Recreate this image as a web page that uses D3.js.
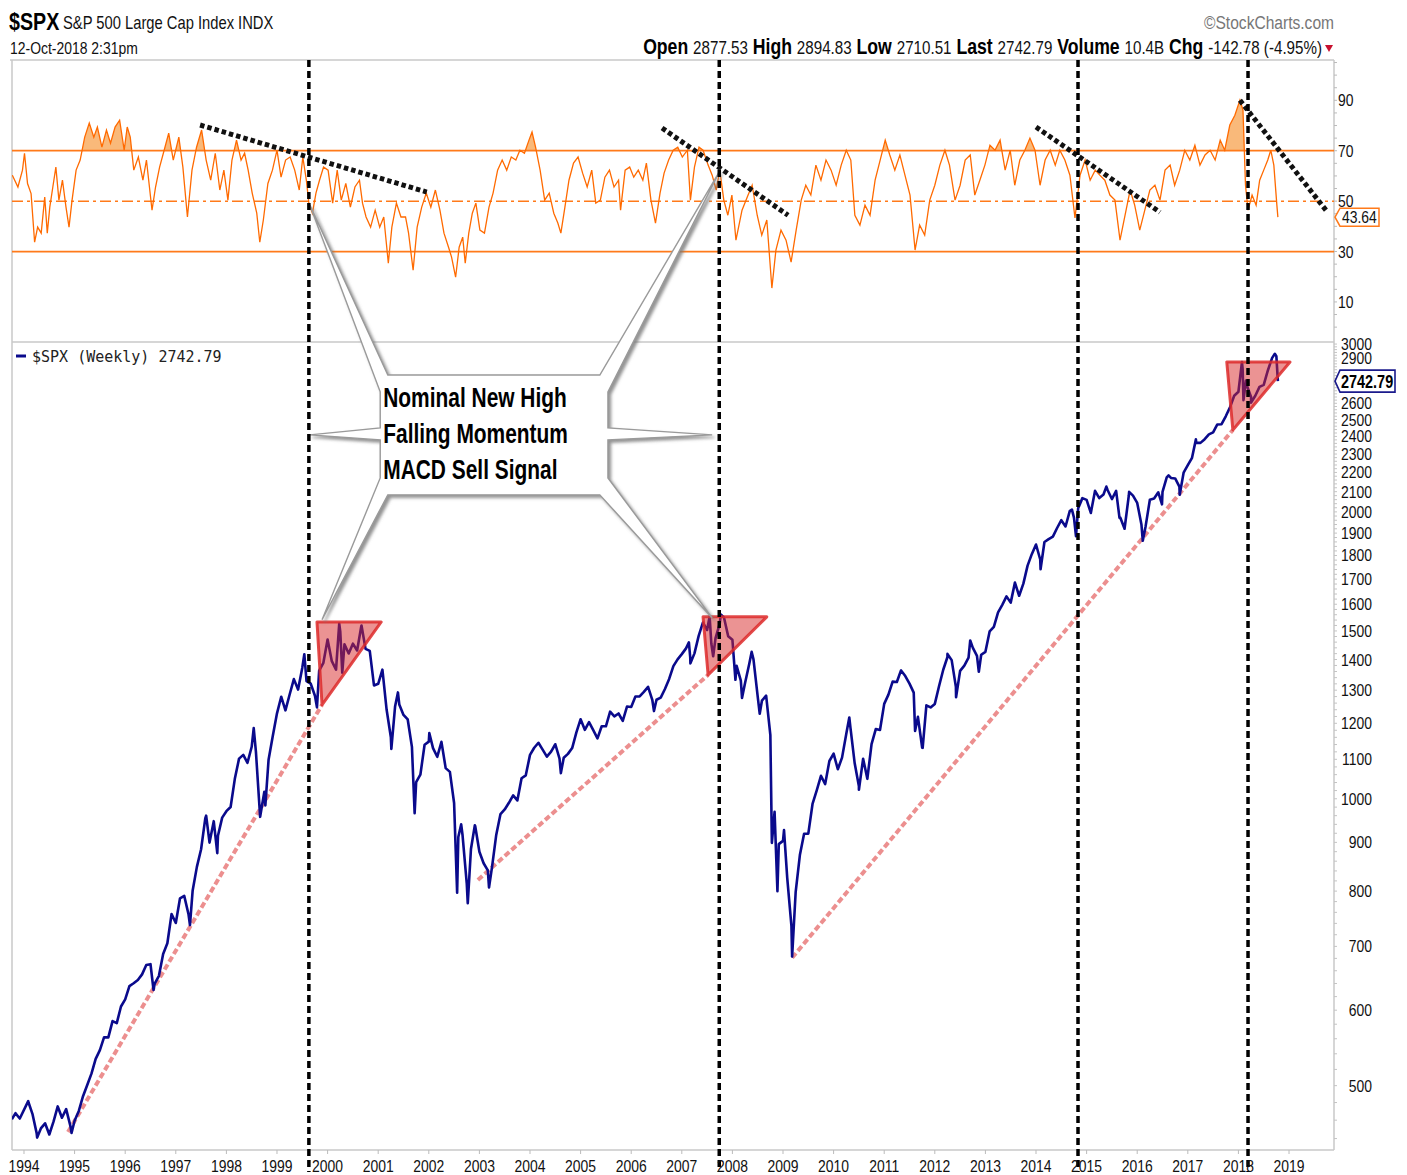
<!DOCTYPE html>
<html>
<head>
<meta charset="utf-8">
<title>$SPX Weekly with RSI</title>
<script src="https://cdnjs.cloudflare.com/ajax/libs/d3/7.8.5/d3.min.js"></script>
<style>
body { margin: 0; background: #fff; }
svg { display: block; font-family: "Liberation Sans", Arial, sans-serif; }
.mono { font-family: "DejaVu Sans Mono", monospace; }
</style>
</head>
<body>
<svg id="chart" width="1407" height="1175"></svg>
<script>
// monthly closes, one row per year: [year, jan .. dec]
var closeRows = [
  [1994, 481.6, 467.1, 445.8, 450.9, 456.5, 444.3, 458.3, 475.5, 462.7, 472.4, 453.7, 459.3],
  [1995, 470.4, 487.4, 500.7, 514.7, 533.4, 544.8, 562.1, 561.9, 584.4, 581.5, 605.4, 615.9],
  [1996, 636.0, 640.4, 645.5, 654.2, 669.1, 670.6, 639.9, 652.0, 687.3, 705.3, 757.0, 740.7],
  [1997, 786.2, 790.8, 757.1, 801.3, 848.3, 885.1, 954.3, 899.5, 947.3, 914.6, 955.4, 970.4],
  [1998, 980.3, 1049.3, 1101.8, 1111.8, 1090.8, 1133.8, 1120.7, 957.3, 1017.0, 1098.7, 1163.6, 1229.2],
  [1999, 1279.6, 1238.3, 1286.4, 1335.2, 1301.8, 1372.7, 1328.7, 1320.4, 1282.7, 1362.9, 1389.0, 1469.3],
  [2000, 1394.5, 1366.4, 1498.6, 1452.4, 1420.6, 1454.6, 1430.8, 1517.7, 1436.5, 1429.4, 1314.9, 1320.3],
  [2001, 1366.0, 1239.9, 1160.3, 1249.5, 1255.8, 1224.4, 1211.2, 1133.6, 1040.9, 1059.8, 1139.5, 1148.1],
  [2002, 1130.2, 1106.7, 1147.4, 1076.9, 1067.1, 989.8, 911.6, 916.1, 815.3, 885.8, 936.3, 879.8],
  [2003, 855.7, 841.2, 848.2, 916.9, 963.6, 974.5, 990.3, 1008.0, 996.0, 1050.7, 1058.2, 1111.9],
  [2004, 1131.1, 1144.9, 1126.2, 1107.3, 1120.7, 1140.8, 1101.7, 1104.2, 1114.6, 1130.2, 1173.8, 1211.9],
  [2005, 1181.3, 1203.6, 1180.6, 1156.9, 1191.5, 1191.3, 1234.2, 1220.3, 1228.8, 1207.0, 1249.5, 1248.3],
  [2006, 1280.1, 1280.7, 1294.9, 1310.6, 1270.1, 1270.2, 1276.7, 1303.8, 1335.9, 1377.9, 1400.6, 1418.3],
  [2007, 1438.2, 1406.8, 1420.9, 1482.4, 1530.6, 1503.4, 1455.3, 1474.0, 1526.8, 1549.4, 1481.1, 1468.4],
  [2008, 1378.6, 1330.6, 1322.7, 1385.6, 1400.4, 1280.0, 1267.4, 1282.8, 1166.4, 968.8, 896.2, 903.3],
  [2009, 825.9, 735.1, 797.9, 872.8, 919.1, 919.3, 987.5, 1020.6, 1057.1, 1036.2, 1095.6, 1115.1],
  [2010, 1073.9, 1104.5, 1169.4, 1186.7, 1089.4, 1030.7, 1101.6, 1049.3, 1141.2, 1183.3, 1180.6, 1257.6],
  [2011, 1286.1, 1327.2, 1325.8, 1363.6, 1345.2, 1320.6, 1292.3, 1218.9, 1131.4, 1253.3, 1247.0, 1257.6],
  [2012, 1312.4, 1365.7, 1408.5, 1397.9, 1310.3, 1362.2, 1379.3, 1406.6, 1440.7, 1412.2, 1416.2, 1426.2],
  [2013, 1498.1, 1514.7, 1569.2, 1597.6, 1630.7, 1606.3, 1685.7, 1633.0, 1681.6, 1756.5, 1805.8, 1848.4],
  [2014, 1782.6, 1859.5, 1872.3, 1883.9, 1923.6, 1960.2, 1930.7, 2003.4, 1972.3, 2018.1, 2067.6, 2058.9],
  [2015, 1995.0, 2104.5, 2067.9, 2085.5, 2107.4, 2063.1, 2103.8, 1972.2, 1920.0, 2079.4, 2080.4, 2043.9],
  [2016, 1940.2, 1932.2, 2059.7, 2065.3, 2096.9, 2098.9, 2173.6, 2170.9, 2168.3, 2126.2, 2198.8, 2238.8],
  [2017, 2278.9, 2363.6, 2362.7, 2384.2, 2411.8, 2423.4, 2470.3, 2471.7, 2519.4, 2575.3, 2647.6, 2673.6],
  [2018, 2823.8, 2713.8, 2640.9, 2648.1, 2705.3, 2718.4, 2816.3, 2901.5, 2914.0]
];

// weekly swing highs / lows between the month ends, [decimal year, close]
var swingPoints = [
  [1993.76, 461], [1993.90, 463], [1994.09, 480], [1994.26, 441], [1994.94, 446],
  [1996.56, 630], [1997.28, 737], [1997.60, 960], [1997.82, 877],
  [1998.54, 1186], [1998.77, 984], [1999.54, 1418], [1999.79, 1247],
  [2000.23, 1527], [2000.29, 1356], [2000.67, 1520],
  [2001.26, 1128], [2001.39, 1293], [2001.72, 966], [2002.01, 1172],
  [2002.56, 797], [2002.64, 940], [2002.77, 777], [2002.91, 938], [2003.19, 807],
  [2004.61, 1064], [2006.45, 1236],
  [2007.14, 1459], [2007.17, 1387], [2007.55, 1553], [2007.62, 1411], [2007.77, 1561],
  [2008.06, 1333], [2008.19, 1276], [2008.38, 1426], [2008.54, 1228], [2008.78, 899],
  [2008.89, 800], [2009.02, 927], [2009.18, 683],
  [2010.31, 1217], [2010.50, 1022], [2011.33, 1363], [2011.61, 1178], [2011.76, 1131],
  [2012.25, 1419], [2012.42, 1278], [2012.70, 1466], [2012.87, 1359],
  [2014.09, 1741], [2014.71, 2011], [2014.79, 1886],
  [2015.39, 2126], [2015.65, 1971], [2015.84, 2099],
  [2016.11, 1865], [2016.49, 2037], [2016.62, 2184], [2016.84, 2085], [2017.16, 2383],
  [2018.07, 2872], [2018.10, 2620], [2018.15, 2747], [2018.25, 2604], [2018.72, 2930],
  [2018.78, 2742.79]
];

// RSI(14) weekly, [decimal year, value]
var rsiPoints = [
  [1993.77, 60.3], [1993.88, 55.6], [1993.97, 62.3], [1994.01, 69], [1994.07, 57], [1994.14, 53],
  [1994.21, 33.7], [1994.27, 39.7], [1994.34, 37.3], [1994.41, 51.6], [1994.46, 37.3], [1994.51, 47.6],
  [1994.57, 55.6], [1994.63, 63.5], [1994.69, 50.4], [1994.76, 58.3], [1994.83, 47.6], [1994.89, 39.7],
  [1994.95, 50.4], [1995.03, 62.3], [1995.11, 66.3], [1995.20, 75.4], [1995.29, 81], [1995.38, 75.4],
  [1995.45, 79.4], [1995.54, 71.4], [1995.63, 78.2], [1995.71, 73], [1995.80, 79.4], [1995.89, 82.1],
  [1995.98, 70.2], [1996.04, 79.4], [1996.10, 75.4], [1996.17, 62.3], [1996.26, 67.5], [1996.35, 58.3],
  [1996.42, 66.3], [1996.53, 46.4], [1996.60, 55.6], [1996.68, 63.5], [1996.77, 70.2], [1996.86, 77],
  [1996.95, 66.3], [1997.06, 75.4], [1997.14, 63.5], [1997.23, 43.7], [1997.32, 62.3], [1997.41, 71.4],
  [1997.51, 78.2], [1997.60, 66.3], [1997.69, 58.3], [1997.78, 69], [1997.87, 54.4], [1997.95, 62.3],
  [1998.03, 50.4], [1998.11, 66.3], [1998.20, 74.2], [1998.29, 66.3], [1998.36, 69], [1998.43, 62.3],
  [1998.51, 53.2], [1998.60, 45.2], [1998.66, 33.7], [1998.73, 42.5], [1998.82, 57], [1998.91, 62.3],
  [1999.00, 70.2], [1999.08, 59.5], [1999.17, 66.3], [1999.26, 67.5], [1999.35, 62.3], [1999.44, 54.4],
  [1999.51, 67.5], [1999.58, 58.3], [1999.63, 49.2], [1999.70, 45.2], [1999.77, 53.2], [1999.84, 58.3],
  [1999.92, 63.5], [2000.01, 62.3], [2000.10, 49.2], [2000.19, 62.3], [2000.27, 50.4], [2000.36, 57],
  [2000.45, 47.6], [2000.54, 55.6], [2000.63, 58.3], [2000.69, 49.2], [2000.76, 43.7], [2000.85, 39.7],
  [2000.94, 46.4], [2001.03, 39.7], [2001.11, 43.7], [2001.20, 25.4], [2001.27, 39.7], [2001.36, 49.2],
  [2001.45, 43.7], [2001.54, 43.7], [2001.60, 37.3], [2001.69, 22.6], [2001.77, 39.7], [2001.86, 47.6],
  [2001.95, 53.2], [2002.04, 47.6], [2002.13, 54.4], [2002.22, 46.4], [2002.30, 37.3], [2002.39, 31.7],
  [2002.45, 27.8], [2002.53, 19.8], [2002.60, 31.7], [2002.67, 35.7], [2002.72, 25.4], [2002.79, 37.3],
  [2002.86, 45.2], [2002.93, 49.2], [2003.01, 38.5], [2003.10, 37.3], [2003.19, 47.6], [2003.27, 53.2],
  [2003.36, 62.3], [2003.45, 66.3], [2003.54, 62.3], [2003.63, 67.5], [2003.72, 66.3], [2003.80, 70.2],
  [2003.89, 69], [2003.98, 74.2], [2004.04, 77.4], [2004.11, 71.4], [2004.20, 62.3], [2004.29, 50.4],
  [2004.38, 53.2], [2004.47, 45.2], [2004.55, 41.3], [2004.61, 37.3], [2004.69, 47.6], [2004.77, 58.3],
  [2004.86, 65.1], [2004.95, 67.5], [2005.04, 61.1], [2005.13, 55.6], [2005.22, 62.3], [2005.30, 49.2],
  [2005.39, 50.4], [2005.48, 59.5], [2005.57, 62.3], [2005.66, 55.6], [2005.75, 58.3], [2005.79, 46.4],
  [2005.88, 62.3], [2005.97, 63.5], [2006.05, 59.5], [2006.14, 62.3], [2006.23, 58.3], [2006.30, 65.1],
  [2006.39, 50.4], [2006.48, 41.3], [2006.57, 53.2], [2006.65, 61.1], [2006.74, 66.3], [2006.83, 70.2],
  [2006.92, 71.4], [2007.01, 67.5], [2007.11, 70.2], [2007.17, 50.4], [2007.25, 63.5], [2007.34, 71.4],
  [2007.42, 70.2], [2007.52, 64.3], [2007.60, 60.3], [2007.68, 54.4], [2007.75, 62.3], [2007.83, 50.4],
  [2007.91, 44.4], [2007.99, 52.4], [2008.07, 34.5], [2008.19, 46.4], [2008.31, 52.4], [2008.39, 56.3],
  [2008.49, 44.4], [2008.58, 36.5], [2008.68, 42.5], [2008.78, 15.5], [2008.86, 30.6], [2008.96, 38.5],
  [2009.06, 34.5], [2009.16, 25.8], [2009.26, 38.5], [2009.36, 50.4], [2009.45, 56.3], [2009.55, 52.4],
  [2009.65, 64.3], [2009.75, 58.3], [2009.85, 66.3], [2009.95, 62.3], [2010.05, 56.3], [2010.15, 64.3],
  [2010.25, 70.2], [2010.34, 66.3], [2010.42, 44.4], [2010.52, 40.5], [2010.62, 48.4], [2010.72, 44.4],
  [2010.82, 58.3], [2010.92, 66.3], [2011.02, 74.2], [2011.11, 68.3], [2011.21, 62.3], [2011.31, 68.3],
  [2011.41, 60.3], [2011.51, 52.4], [2011.61, 30.6], [2011.70, 40.5], [2011.80, 36.5], [2011.90, 50.4],
  [2012.00, 56.3], [2012.10, 64.3], [2012.20, 70.2], [2012.29, 64.3], [2012.40, 50.4], [2012.50, 56.3],
  [2012.60, 66.3], [2012.70, 68.3], [2012.79, 52.4], [2012.89, 58.3], [2012.99, 64.3], [2013.09, 72.2],
  [2013.19, 70.2], [2013.29, 74.2], [2013.39, 62.3], [2013.49, 70.2], [2013.58, 56.3], [2013.68, 66.3],
  [2013.78, 70.2], [2013.88, 75], [2013.98, 70.2], [2014.08, 56.3], [2014.18, 66.3], [2014.28, 70.2],
  [2014.38, 64.3], [2014.47, 70.2], [2014.57, 66.3], [2014.67, 60.3], [2014.77, 43.3], [2014.87, 60.3],
  [2014.97, 66.3], [2015.07, 58.3], [2015.17, 62.3], [2015.26, 60.3], [2015.36, 58.3], [2015.46, 52.4],
  [2015.56, 50.4], [2015.66, 34.5], [2015.76, 44.4], [2015.86, 54.4], [2015.95, 48.4], [2016.05, 38.5],
  [2016.15, 46.4], [2016.25, 54.4], [2016.35, 56.3], [2016.45, 50.4], [2016.55, 62.3], [2016.65, 64.3],
  [2016.74, 56.3], [2016.84, 62.3], [2016.94, 70.2], [2017.04, 66.3], [2017.14, 72.2], [2017.24, 64.3],
  [2017.34, 68.3], [2017.44, 70.2], [2017.54, 66.3], [2017.64, 74.2], [2017.73, 70.2], [2017.83, 80.2],
  [2017.93, 84.1], [2018.03, 90.1], [2018.09, 86.1], [2018.14, 56.3], [2018.19, 46.4], [2018.27, 52.4],
  [2018.35, 48.4], [2018.42, 58.3], [2018.50, 62.3], [2018.58, 66.3], [2018.64, 70.2], [2018.70, 64.3],
  [2018.76, 48.4], [2018.78, 43.64]
];

var rsiTicks = [10, 30, 50, 70, 90];
var priceTicks = [500, 600, 700, 800, 900, 1000, 1100, 1200, 1300, 1400, 1500, 1600, 1700, 1800,
                  1900, 2000, 2100, 2200, 2300, 2400, 2500, 2600, 2900, 3000];
var yearTicks = d3.range(1994, 2020);

// sell-signal weeks (vertical dashed lines)
var signalDates = [1999.63, 2007.74, 2014.83, 2018.19];

// falling-momentum lines on the RSI: [t1, rsi1, t2, rsi2]
var rsiTrendLines = [
  [1997.48, 80.2, 2001.96, 53.6],
  [2006.61, 79.0, 2009.10, 44.4],
  [2014.00, 79.4, 2016.45, 45.6],
  [2018.03, 90.0, 2019.73, 46.4]
];

// rising support lines on price: [t1, p1, t2, p2]
var supportLines = [
  [1994.87, 447, 1999.89, 1255],
  [2002.97, 822, 2007.52, 1349],
  [2009.18, 681, 2017.89, 2438]
];

// topping triangles: top-left, top-right, bottom  [t, price]
var topTriangles = [
  [[1999.79, 1533], [2001.06, 1533], [1999.89, 1255]],
  [[2007.42, 1552], [2008.68, 1552], [2007.52, 1349]],
  [[2017.77, 2873], [2019.02, 2873], [2017.89, 2438]]
];

var calloutLines = ["Nominal New High", "Falling Momentum", "MACD Sell Signal"];

var lastPrice = 2742.79, lastRsi = 43.64;

// ---------------------------------------------------------------
var svg = d3.select("#chart");
var L = 12, R = 1334, rsiTop = 60, split = 342, bottom = 1150;
var NARROW = 0.82;   // Arial Narrow look: squeeze Liberation Sans horizontally

var x = d3.scaleLinear().domain([1993.763, 2019.889]).range([L, R]);
var yRsi = d3.scaleLinear().domain([-5.9, 106]).range([split, rsiTop]);
var yPx = d3.scaleLog().domain([428, 3015]).range([bottom, split]);

// narrow text placed at (tx, ty)
function ntext(parent, tx, ty, size, squeeze) {
  return parent.append("text")
    .attr("transform", "translate(" + tx + "," + ty + ") scale(" + (squeeze || NARROW) + ",1)")
    .attr("font-size", size).attr("fill", "#111");
}

var priceData = [];
closeRows.forEach(function (row) {
  for (var m = 1; m < row.length; m++) priceData.push([row[0] + m / 12, row[m]]);
});
priceData.push([1993.833, 467.8], [1993.917, 461.8]);
priceData = priceData.concat(swingPoints).sort(function (a, b) { return a[0] - b[0]; });

var defs = svg.append("defs");
defs.append("clipPath").attr("id", "clipRsi").append("rect")
  .attr("x", L).attr("y", rsiTop).attr("width", R - L).attr("height", split - rsiTop);
defs.append("clipPath").attr("id", "clipOb").append("rect")
  .attr("x", L).attr("y", rsiTop).attr("width", R - L).attr("height", yRsi(70) - rsiTop);
defs.append("clipPath").attr("id", "clipPx").append("rect")
  .attr("x", L).attr("y", split).attr("width", R - L).attr("height", bottom - split);
var shadow = defs.append("filter").attr("id", "shadow")
  .attr("x", "-20%").attr("y", "-20%").attr("width", "140%").attr("height", "140%");
shadow.append("feDropShadow").attr("dx", 2.5).attr("dy", 2.5)
  .attr("stdDeviation", 1.6).attr("flood-color", "#777").attr("flood-opacity", 0.8);

// ---- header
ntext(svg, 9, 30, 24).attr("font-weight", "bold").attr("fill", "#000").text("$SPX");
ntext(svg, 63, 29, 18).text("S&P 500 Large Cap Index  INDX");
ntext(svg, 10, 54, 17).text("12-Oct-2018 2:31pm");
ntext(svg, R, 29, 19).attr("fill", "#777").attr("text-anchor", "end").text("\u00A9StockCharts.com");

var quote = ntext(svg, 1322, 54, 18.5).attr("text-anchor", "end");
[["Open", "2877.53"], ["High", "2894.83"], ["Low", "2710.51"], ["Last", "2742.79"],
 ["Volume", "10.4B"], ["Chg", "-142.78 (-4.95%)"]].forEach(function (q, i) {
  quote.append("tspan").attr("font-weight", "bold").attr("font-size", 21.5).attr("fill", "#000")
    .text((i ? "  " : "") + q[0] + " ");
  quote.append("tspan").text(q[1]);
});
svg.append("path").attr("d", "M1325,45 L1333,45 L1329,52 Z").attr("fill", "#c8102e");

// ---- frame
var frame = svg.append("g").attr("stroke", "#c8c8c8").attr("stroke-width", 1.5).attr("fill", "none");
frame.append("line").attr("x1", 10).attr("x2", R).attr("y1", rsiTop).attr("y2", rsiTop);
frame.append("line").attr("x1", L).attr("x2", R).attr("y1", split).attr("y2", split);
frame.append("line").attr("x1", L).attr("x2", R).attr("y1", bottom).attr("y2", bottom);
frame.append("line").attr("x1", L).attr("x2", L).attr("y1", rsiTop).attr("y2", bottom);
frame.append("line").attr("x1", R).attr("x2", R).attr("y1", rsiTop).attr("y2", bottom);

// ---- RSI panel
var rsiG = svg.append("g");
var area = d3.area().x(function (d) { return x(d[0]); })
  .y0(yRsi(70)).y1(function (d) { return yRsi(d[1]); });
rsiG.append("path").datum(rsiPoints).attr("clip-path", "url(#clipOb)")
  .attr("d", area).attr("fill", "#f7a859").attr("opacity", 0.8);

[70, 30].forEach(function (v) {
  rsiG.append("line").attr("x1", L).attr("x2", R).attr("y1", yRsi(v)).attr("y2", yRsi(v))
    .attr("stroke", "#ff7a1a").attr("stroke-width", 1.8);
});
rsiG.append("line").attr("x1", L).attr("x2", R).attr("y1", yRsi(50)).attr("y2", yRsi(50))
  .attr("stroke", "#ff7a1a").attr("stroke-width", 1.5).attr("stroke-dasharray", "11,4,3,4");

rsiG.append("path").datum(rsiPoints).attr("clip-path", "url(#clipRsi)")
  .attr("d", d3.line().x(function (d) { return x(d[0]); }).y(function (d) { return yRsi(d[1]); }))
  .attr("fill", "none").attr("stroke", "#ff6a00").attr("stroke-width", 1.3);

rsiG.selectAll(".rtrend").data(rsiTrendLines).enter().append("line")
  .attr("x1", function (d) { return x(d[0]); }).attr("y1", function (d) { return yRsi(d[1]); })
  .attr("x2", function (d) { return x(d[2]); }).attr("y2", function (d) { return yRsi(d[3]); })
  .attr("stroke", "#111").attr("stroke-width", 5).attr("stroke-dasharray", "4.5,3");

// ---- price panel
var pxG = svg.append("g").attr("clip-path", "url(#clipPx)");
pxG.selectAll(".support").data(supportLines).enter().append("line")
  .attr("x1", function (d) { return x(d[0]); }).attr("y1", function (d) { return yPx(d[1]); })
  .attr("x2", function (d) { return x(d[2]); }).attr("y2", function (d) { return yPx(d[3]); })
  .attr("stroke", "#ec8f8f").attr("stroke-width", 4).attr("stroke-dasharray", "6,3");

pxG.append("path").datum(priceData)
  .attr("d", d3.line().x(function (d) { return x(d[0]); }).y(function (d) { return yPx(d[1]); }))
  .attr("fill", "none").attr("stroke", "#0a0a8c").attr("stroke-width", 2.6)
  .attr("stroke-linejoin", "round");

pxG.selectAll(".tri").data(topTriangles).enter().append("path")
  .attr("d", function (d) {
    return "M" + d.map(function (p) { return x(p[0]) + "," + yPx(p[1]); }).join("L") + "Z";
  })
  .attr("fill", "rgba(215,40,40,0.5)").attr("stroke", "#dd2a2a").attr("stroke-width", 3)
  .attr("stroke-opacity", 0.85).attr("stroke-linejoin", "round");

// legend
svg.append("line").attr("x1", 16).attr("x2", 26).attr("y1", 356).attr("y2", 356)
  .attr("stroke", "#0a0a8c").attr("stroke-width", 3);
svg.append("text").attr("class", "mono").attr("x", 32).attr("y", 362).attr("font-size", 15)
  .attr("fill", "#222").text("$SPX (Weekly) " + lastPrice);

// ---- callout
var P = function (t, p) { return [x(t), yPx(p)]; };
var Rr = function (t, v) { return [x(t), yRsi(v)]; };
var calloutShape = [
  P(2001.19, 2784), P(2005.38, 2784), Rr(2007.76, 62.3), P(2005.54, 2673), P(2005.54, 2450),
  P(2007.60, 2409), P(2005.54, 2380), P(2005.54, 2171), P(2007.60, 1548), P(2005.38, 2084),
  P(2001.19, 2084), P(1999.89, 1541), P(2001.04, 2171), P(2001.04, 2380), P(1999.65, 2409),
  P(2001.04, 2450), P(2001.04, 2673), Rr(1999.65, 48.4)
];
svg.append("path").attr("d", "M" + calloutShape.join("L") + "Z")
  .attr("fill", "#fff").attr("stroke", "#9a9a9a").attr("stroke-width", 1.4)
  .attr("filter", "url(#shadow)");
var boxLeft = x(2001.04) + 3, boxTop = yPx(2784);
calloutLines.forEach(function (s, i) {
  ntext(svg, boxLeft, boxTop + 32 + i * 36, 27, 0.775).attr("font-weight", "bold").attr("fill", "#000").text(s);
});

// ---- signal lines
svg.selectAll(".signal").data(signalDates).enter().append("line")
  .attr("x1", function (d) { return x(d); }).attr("x2", function (d) { return x(d); })
  .attr("y1", rsiTop).attr("y2", 1172)
  .attr("stroke", "#000").attr("stroke-width", 3.5).attr("stroke-dasharray", "7,4");

// ---- right axis
var ax = svg.append("g");
d3.range(0, 106, 5).forEach(function (v) {
  ax.append("line").attr("x1", R).attr("x2", R + 3).attr("y1", yRsi(v)).attr("y2", yRsi(v))
    .attr("stroke", "#bbb");
});
d3.range(440, 3001, 20).forEach(function (v) {
  ax.append("line").attr("x1", R).attr("x2", R + 3).attr("y1", yPx(v)).attr("y2", yPx(v))
    .attr("stroke", "#c4c4c4");
});
rsiTicks.forEach(function (d) {
  ntext(ax, R + 4, yRsi(d) + 6, 17).text(d);
});
priceTicks.forEach(function (d) {
  ntext(ax, 1372, yPx(d) + 6, 17).attr("text-anchor", "end").text(d);
});

// value flags
var ry = yRsi(lastRsi);
ax.append("path").attr("d", "M" + (R + 1) + "," + ry + "L" + (R + 6) + "," + (ry - 9) + "H1379V" + (ry + 9) + "H" + (R + 6) + "Z")
  .attr("fill", "#fff").attr("stroke", "#ff7a1a").attr("stroke-width", 1.5);
ntext(ax, R + 8, ry + 6, 17).text(lastRsi);
var py = yPx(lastPrice);
ax.append("path").attr("d", "M" + (R + 1) + "," + py + "L" + (R + 6) + "," + (py - 11) + "H1395V" + (py + 11) + "H" + (R + 6) + "Z")
  .attr("fill", "#fff").attr("stroke", "#1a1a8c").attr("stroke-width", 1.6);
ntext(ax, R + 7, py + 7, 19, 0.76).attr("font-weight", "bold").attr("fill", "#000").text(lastPrice);

// ---- bottom axis
var xb = svg.append("g");
xb.selectAll(".yt").data(yearTicks).enter().append("line")
  .attr("x1", function (d) { return x(d); }).attr("x2", function (d) { return x(d); })
  .attr("y1", bottom).attr("y2", bottom + 4).attr("stroke", "#bbb");
yearTicks.forEach(function (d) {
  ntext(xb, x(d), 1172, 17).attr("text-anchor", "middle").text(d);
});
</script>
</body>
</html>
